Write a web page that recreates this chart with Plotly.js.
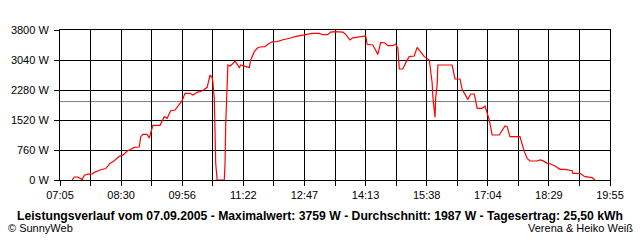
<!DOCTYPE html>
<html><head><meta charset="utf-8">
<script src="https://cdn.plot.ly/plotly-3.0.1.min.js"></script>
<style>html,body{margin:0;padding:0;background:#fff;}#chart{width:640px;height:240px;}</style>
</head><body><div id="chart"></div>
<script>
const times = ["07:22","07:25","07:30","07:36","07:39","07:44","07:50","07:54","08:01","08:04","08:09","08:15","08:21","08:28","08:33","08:40","08:46","08:49","08:56","08:58","09:01","09:07","09:10","09:12","09:15","09:25","09:28","09:31","09:35","09:40","09:46","09:52","09:56","10:00","10:07","10:11","10:17","10:24","10:28","10:31","10:35","10:38","10:39","10:41","10:43","10:45","10:55","10:56","10:57","10:58","10:59","11:00","11:03","11:06","11:10","11:13","11:16","11:18","11:24","11:30","11:32","11:37","11:41","11:45","11:52","11:56","12:02","12:09","12:16","12:21","12:28","12:34","12:41","12:48","12:52","12:58","13:08","13:13","13:20","13:24","13:30","13:41","13:45","13:51","13:55","14:02","14:11","14:13","14:15","14:23","14:30","14:34","14:40","14:44","14:51","14:55","14:58","15:00","15:05","15:09","15:14","15:21","15:25","15:30","15:35","15:42","15:44","15:46","15:47","15:49","15:50","15:51","15:53","15:54","16:14","16:18","16:25","16:28","16:32","16:36","16:40","16:45","16:49","16:56","17:00","17:03","17:06","17:10","17:20","17:28","17:31","17:35","17:49","17:55","17:59","18:03","18:13","18:17","18:21","18:27","18:32","18:38","18:45","18:52","19:02","19:03","19:13","19:20","19:30","19:34"];
const watts = [0,76,76,10,120,150,155,200,253,260,290,420,490,600,630,743,800,827,835,1098,1157,1157,1064,1216,1385,1385,1495,1604,1562,1756,1773,1925,2009,2196,2196,2153,2221,2255,2313,2348,2660,2592,2490,2069,422,0,0,400,1400,1950,2250,2913,2888,2930,3015,2930,2846,2913,2871,2846,3040,3251,3336,3369,3377,3437,3500,3504,3547,3563,3597,3631,3656,3665,3690,3715,3715,3681,3681,3745,3759,3745,3690,3547,3600,3614,3648,3648,3437,3420,3183,3487,3470,3403,3403,3445,3336,2812,2812,2973,3124,3141,3361,3251,3124,3040,2804,2465,2111,1773,1585,2094,2407,2913,2913,2559,2559,2297,2153,2043,2179,2179,1816,1816,1875,1689,1520,1140,1140,1368,1351,1098,1098,718,549,481,481,507,490,422,405,355,270,270,236,169,169,84,59,0];
const xTickLabels = ["07:05","08:30","09:56","11:22","12:47","14:13","15:38","17:04","18:29","19:55"];
const yTicks = [0,760,1520,2280,3040,3800];
const yTickLabels = ["0 W","760 W","1520 W","2280 W","3040 W","3800 W"];
const average = 1987;
const titleText = "Leistungsverlauf vom 07.09.2005 - Maximalwert: 3759 W - Durchschnitt: 1987 W - Tagesertrag: 25,50 kWh";

const toMin = s => { const p = s.split(":"); return (+p[0])*60 + (+p[1]); };
const xs = times.map(toMin);
const x0 = toMin(xTickLabels[0]), x1 = toMin(xTickLabels[xTickLabels.length-1]);
const step = (x1 - x0) / (xTickLabels.length - 1);
const tickvals = xTickLabels.map((_, i) => x0 + i*step);
const font = "Liberation Sans, Arial, sans-serif";

Plotly.newPlot("chart", [{
  x: xs, y: watts, type: "scatter", mode: "lines",
  line: {color: "#ff0000", width: 1.2}, hoverinfo: "skip"
}], {
  width: 640, height: 240,
  margin: {l: 60, r: 30, t: 30, b: 60},
  paper_bgcolor: "#fff", plot_bgcolor: "#fff",
  showlegend: false,
  font: {family: font, size: 11, color: "#000"},
  xaxis: {
    range: [x0, x1], tickmode: "array", tickvals: tickvals, ticktext: xTickLabels,
    ticks: "outside", ticklen: 5, tickcolor: "#000", tickwidth: 1,
    showgrid: true, gridcolor: "#000", gridwidth: 1,
    showline: true, linecolor: "#000", linewidth: 1, mirror: true, zeroline: false,
    minor: {tickmode: "linear", tick0: x0, dtick: step/2, ticks: "outside", ticklen: 5, tickcolor: "#000", showgrid: true, gridcolor: "#000", gridwidth: 1},
    tickfont: {family: font, size: 11, color: "#000"}
  },
  yaxis: {
    range: [0, 3800], tickmode: "array", tickvals: yTicks, ticktext: yTickLabels,
    ticks: "outside", ticklen: 5, tickcolor: "#000", ticklabelstandoff: 3,
    showgrid: true, gridcolor: "#000", gridwidth: 1,
    showline: true, linecolor: "#000", linewidth: 1, mirror: true, zeroline: false,
    tickfont: {family: font, size: 11, color: "#000"}
  },
  shapes: [{type: "line", xref: "paper", x0: 0, x1: 1, yref: "y", y0: average, y1: average, line: {color: "#808080", width: 1}, layer: "below"}],
  annotations: [
    {text: "<b>" + titleText + "</b>", xref: "paper", yref: "paper", x: 0.4727, y: -0.237, xanchor: "center", yanchor: "middle", showarrow: false, font: {family: font, size: 12.2, color: "#000"}},
    {text: "© SunnyWeb", xref: "paper", yref: "paper", x: -0.098, y: -0.32, xanchor: "left", yanchor: "middle", showarrow: false, font: {family: font, size: 11, color: "#000"}},
    {text: "Verena & Heiko Weiß", xref: "paper", yref: "paper", x: 1.045, y: -0.32, xanchor: "right", yanchor: "middle", showarrow: false, font: {family: font, size: 11, color: "#000"}}
  ]
}, {staticPlot: true});
</script></body></html>
